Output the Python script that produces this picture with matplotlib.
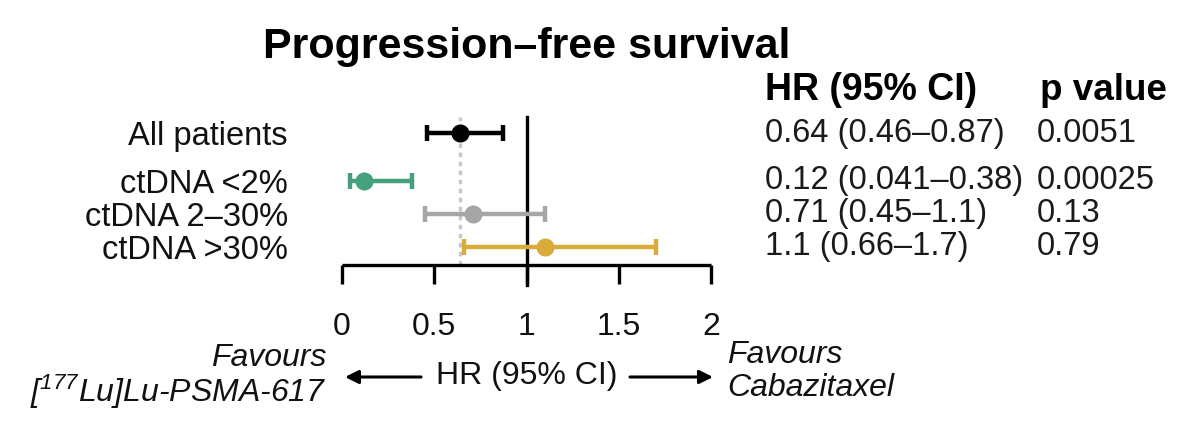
import matplotlib
matplotlib.use("Agg")
import matplotlib.pyplot as plt
from matplotlib.transforms import blended_transform_factory

plt.rcParams['font.family'] = ['Liberation Sans', 'DejaVu Sans']
plt.rcParams['mathtext.fontset'] = 'custom'
plt.rcParams['mathtext.rm'] = 'Liberation Sans:italic'
plt.rcParams['mathtext.it'] = 'Liberation Sans:italic'

# ---- data ----
categories = ["All patients", "ctDNA <2%", "ctDNA 2\u201330%", "ctDNA >30%"]
hr = [0.64, 0.12, 0.71, 1.1]
ci_low = [0.46, 0.041, 0.45, 0.66]
ci_high = [0.87, 0.38, 1.1, 1.7]
hr_text = ["0.64 (0.46\u20130.87)", "0.12 (0.041\u20130.38)", "0.71 (0.45\u20131.1)", "1.1 (0.66\u20131.7)"]
p_text = ["0.0051", "0.00025", "0.13", "0.79"]
xticks = [0, 0.5, 1, 1.5, 2]
xtick_labels = ["0", "0.5", "1", "1.5", "2"]
colors = ["#000000", "#45A07D", "#A6A6A6", "#D9AA3C"]
row_pos = [0, 1.45, 2.45, 3.45]
overall_hr = 0.64

W, H = 1200, 441
fig = plt.figure(figsize=(W / 100, H / 100), dpi=100)

def fx(px):
    return px / W

def fy(py):
    return 1 - py / H

ax_left, ax_right, ax_top, ax_bot = 342, 711, 117, 265
ax = fig.add_axes([fx(ax_left), fy(ax_bot), fx(ax_right - ax_left), (ax_bot - ax_top) / H])
ax.set_xlim(0, 2)
ax.set_ylim(4.0, -0.485)
for s in ["top", "right", "left"]:
    ax.spines[s].set_visible(False)
ax.spines["bottom"].set_linewidth(2.4)
ax.spines["bottom"].set_capstyle("butt")
ax.set_xticks(xticks)
ax.set_xticklabels(xtick_labels, fontsize=23, color="#111111")
ax.tick_params(axis="x", direction="out", length=14, width=2.4, pad=20)
ax.set_yticks(row_pos)
ax.set_yticklabels(categories, fontsize=23.5, color="#111111")
ax.tick_params(axis="y", length=0, pad=39)
ax.patch.set_alpha(0)

# reference lines
ax.axvline(overall_hr, ymin=0, ymax=1, color="#C8C8C8", lw=2.5, ls=(0, (1.3, 1.3)), zorder=1)
ax.axvline(1, ymin=-20 / 148, ymax=1, color="black", lw=2.4, clip_on=False, zorder=2)

for i in range(len(hr)):
    ax.errorbar(hr[i], row_pos[i], xerr=[[hr[i] - ci_low[i]], [ci_high[i] - hr[i]]],
                fmt="o", color=colors[i], ms=12, elinewidth=3.2, capsize=6, capthick=3.2,
                zorder=3, clip_on=False)

# table
trans = blended_transform_factory(fig.transFigure, ax.transData)
for i in range(len(hr)):
    ax.text(fx(765), row_pos[i], hr_text[i], transform=trans, fontsize=23.5,
            ha="left", va="center", color="#1a1a1a")
    ax.text(fx(1037), row_pos[i], p_text[i], transform=trans, fontsize=23.5,
            ha="left", va="center", color="#1a1a1a")

fig.text(fx(765), fy(90), "HR (95% CI)", fontsize=27, fontweight="bold", ha="left", va="center")
fig.text(fx(1040), fy(90), "p value", fontsize=26.5, fontweight="bold", ha="left", va="center")

# title
fig.text(fx(527), fy(47), "Progression\u2013free survival", fontsize=31, fontweight="bold",
         ha="center", va="center")

# bottom annotations
fig.text(fx(326), fy(358), "Favours", fontsize=23, style="italic", ha="right", va="center",
         color="#111111")
fig.text(fx(326), fy(392), "[$^{177}$Lu]Lu-PSMA-617", fontsize=23, style="italic", ha="right",
         va="center", color="#111111")
fig.text(fx(727), fy(355), "Favours", fontsize=23, style="italic", ha="left", va="center",
         color="#111111")
fig.text(fx(727), fy(388), "Cabazitaxel", fontsize=23, style="italic", ha="left", va="center",
         color="#111111")
fig.text(fx(527), fy(376), "HR (95% CI)", fontsize=23, ha="center", va="center", color="#111111")

arrow_kw = dict(arrowstyle="-|>", lw=2.2, color="black", mutation_scale=20, shrinkA=0, shrinkB=0)
fig.add_artist(matplotlib.patches.FancyArrowPatch((fx(421), fy(377)), (fx(345), fy(377)),
                                                  transform=fig.transFigure, **arrow_kw))
fig.add_artist(matplotlib.patches.FancyArrowPatch((fx(630), fy(377)), (fx(713), fy(377)),
                                                  transform=fig.transFigure, **arrow_kw))

fig.savefig("out.png", dpi=100)
